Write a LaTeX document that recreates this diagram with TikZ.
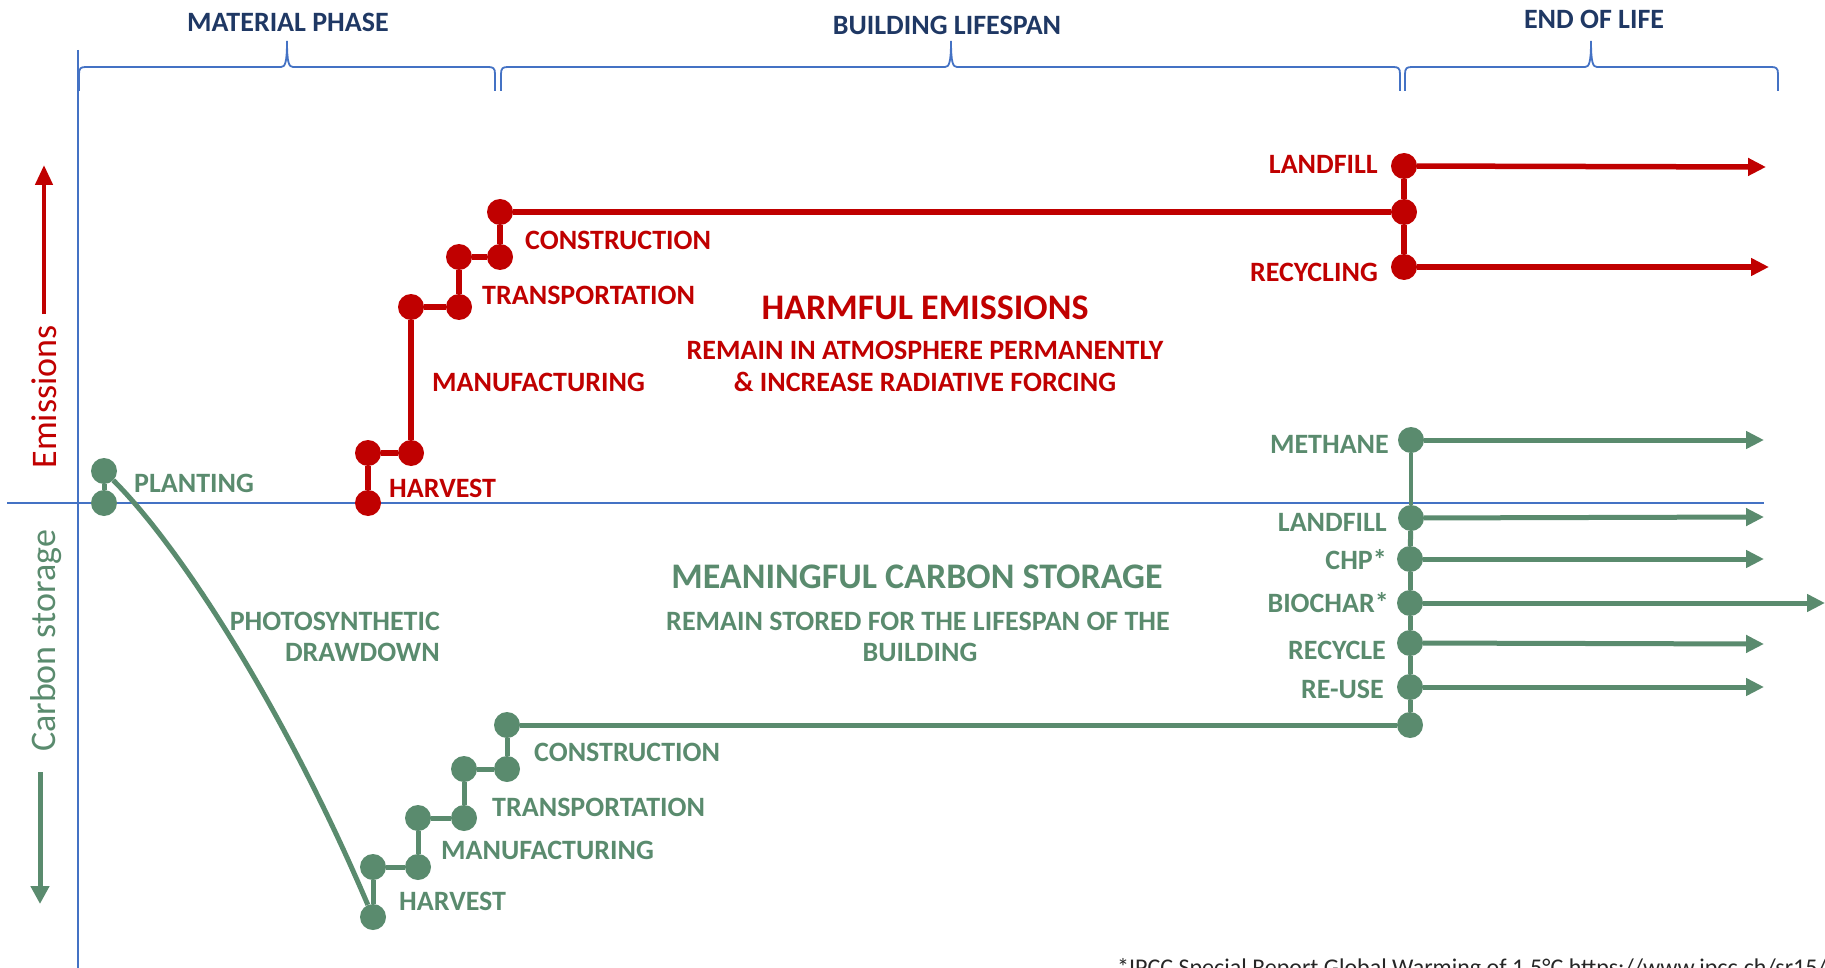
\documentclass[tikz,border=0pt]{standalone}
\usepackage{fontspec}
\setmainfont{Carlito}
\usetikzlibrary{arrows.meta}
\definecolor{emis}{HTML}{C00000}
\definecolor{store}{HTML}{5A8B6E}
\definecolor{axisblue}{HTML}{4472C4}
\definecolor{navy}{HTML}{1F3864}

\begin{document}
\begin{tikzpicture}[x=1pt,y=-1pt,
  lab/.style={inner sep=0pt, font=\fontsize{28}{32}\selectfont\bfseries},
  head/.style={inner sep=0pt, font=\fontsize{36}{40}\selectfont\bfseries},
  axislabel/.style={inner sep=0pt, rotate=90, font=\fontsize{36}{40}\selectfont},
  gdot/.style={circle, fill=store, inner sep=0pt, minimum size=26pt},
  rdot/.style={circle, fill=emis, inner sep=0pt, minimum size=26pt},
  gline/.style={draw=store, line width=5pt},
  rline/.style={draw=emis, line width=5.5pt},
  tip/.style={-{Triangle[length=18pt,width=17pt]}},
  axisline/.style={draw=axisblue, line width=1.6pt},
  brace/.style={draw=axisblue, line width=1.8pt},
]
\useasboundingbox (0,0) rectangle (1825,968);
\clip (0,0) rectangle (1825,968);

% ---- axes ----
\draw[axisline] (78,50) -- (78,968);
\draw[axisline] (7,503) -- (1764,503);

% ---- phase braces ----
\draw[brace] (79,91) -- (79,74) .. controls (79,68) and (81,67) .. (86,67) -- (281,67)
  .. controls (285,67) and (287,63) .. (287,41) .. controls (287,63) and (289,67) .. (293,67)
  -- (488,67) .. controls (493,67) and (495,68) .. (495,74) -- (495,91);
\draw[brace] (501,91) -- (501,74) .. controls (501,68) and (503,67) .. (508,67) -- (945,67)
  .. controls (949,67) and (951,63) .. (951,41) .. controls (951,63) and (953,67) .. (957,67)
  -- (1393,67) .. controls (1398,67) and (1400,68) .. (1400,74) -- (1400,91);
\draw[brace] (1405,91) -- (1405,74) .. controls (1405,68) and (1407,67) .. (1412,67) -- (1585,67)
  .. controls (1589,67) and (1591,63) .. (1591,41) .. controls (1591,63) and (1593,67) .. (1597,67)
  -- (1771,67) .. controls (1776,67) and (1778,68) .. (1778,74) -- (1778,91);

\node[lab, text=navy, anchor=base] (phMat) at (288,32) {MATERIAL PHASE};
\node[lab, text=navy, anchor=base] (phLife) at (947,35) {BUILDING LIFESPAN};
\node[lab, text=navy, anchor=base] (phEnd) at (1594,29) {END OF LIFE};

% ---- vertical axis captions ----
\coordinate (emBot) at (44,314);
\coordinate (emTop) at (44,165);
\draw[draw=emis, line width=4.5pt, -{Triangle[length=20pt,width=17pt]}] (emBot) -- (emTop);
\node[axislabel, text=emis] (emLab) at (44,397) {Emissions};
\coordinate (csTop) at (40,772);
\coordinate (csBot) at (40,904);
\draw[draw=store, line width=5pt, -{Triangle[length=18pt,width=18pt]}] (csTop) -- (csBot);
\node[axislabel, text=store] (csLab) at (46,641) {Carbon storage};

% ---- emissions path ----
\node[rdot] (rh1) at (368,503) {};
\node[rdot] (rh2) at (368,453) {};
\node[rdot] (rm1) at (411,453) {};
\node[rdot] (rm2) at (411,307) {};
\node[rdot] (rt1) at (459,307) {};
\node[rdot] (rt2) at (459,257) {};
\node[rdot] (rc1) at (500,257) {};
\node[rdot] (rc2) at (500,212) {};
\node[rdot] (re0) at (1404,212) {};
\node[rdot] (rlf) at (1404,166) {};
\node[rdot] (rrc) at (1404,267) {};
\coordinate (rlfEnd) at (1766,167);
\coordinate (rrcEnd) at (1769,267);

\draw[rline] (rh1) -- (rh2);
\draw[rline] (rh2) -- (rm1);
\draw[rline] (rm1) -- (rm2);
\draw[rline] (rm2) -- (rt1);
\draw[rline] (rt1) -- (rt2);
\draw[rline] (rt2) -- (rc1);
\draw[rline] (rc1) -- (rc2);
\draw[rline] (rc2) -- (re0);
\draw[rline] (re0) -- (rlf);
\draw[rline] (re0) -- (rrc);
\draw[rline, tip] (rlf) -- (rlfEnd);
\draw[rline, tip] (rrc) -- (rrcEnd);

\node[lab, text=emis, anchor=base west] (rHarv) at (389,497) {HARVEST};
\node[lab, text=emis, anchor=base west] (rManu) at (432,391) {MANUFACTURING};
\node[lab, text=emis, anchor=base west] (rTrans) at (482,304) {TRANSPORTATION};
\node[lab, text=emis, anchor=base west] (rCons) at (525,250) {CONSTRUCTION};
\node[lab, text=emis, anchor=base east] (rLand) at (1378,174) {LANDFILL};
\node[lab, text=emis, anchor=base east] (rRecy) at (1378,281) {RECYCLING};

\node[head, text=emis, anchor=base] (rHead) at (925,319) {HARMFUL EMISSIONS};
\node[lab, text=emis, anchor=base] (rSub1) at (925,359) {REMAIN IN ATMOSPHERE PERMANENTLY};
\node[lab, text=emis, anchor=base] (rSub2) at (925,391) {\& INCREASE RADIATIVE FORCING};

% ---- carbon storage path ----
\node[gdot] (gp1) at (104,503) {};
\node[gdot] (gp2) at (104,471) {};
\node[gdot] (gh1) at (373,917) {};
\node[gdot] (gh2) at (373,867) {};
\node[gdot] (gm1) at (418,867) {};
\node[gdot] (gm2) at (418,818) {};
\node[gdot] (gt1) at (464,818) {};
\node[gdot] (gt2) at (464,769) {};
\node[gdot] (gc1) at (507,769) {};
\node[gdot] (gc2) at (507,725) {};
\node[gdot] (ge0) at (1410,725) {};
\node[gdot] (ere) at (1410,687) {};
\node[gdot] (erc) at (1410,643) {};
\node[gdot] (ebc) at (1410,603) {};
\node[gdot] (ech) at (1410,559) {};
\node[gdot] (elf) at (1411,518) {};
\node[gdot] (emt) at (1411,440) {};
\coordinate (emtEnd) at (1764,440);
\coordinate (elfEnd) at (1764,517);
\coordinate (echEnd) at (1764,559);
\coordinate (ebcEnd) at (1825,603);
\coordinate (ercEnd) at (1764,644);
\coordinate (ereEnd) at (1764,687);

\draw[gline] (gp1) -- (gp2);
\draw[gline] (gp2) .. controls (184,551) and (288,717) .. (gh1);
\draw[gline] (gh1) -- (gh2);
\draw[gline] (gh2) -- (gm1);
\draw[gline] (gm1) -- (gm2);
\draw[gline] (gm2) -- (gt1);
\draw[gline] (gt1) -- (gt2);
\draw[gline] (gt2) -- (gc1);
\draw[gline] (gc1) -- (gc2);
\draw[gline] (gc2) -- (ge0);
\draw[gline] (ge0) -- (ere);
\draw[gline] (ere) -- (erc);
\draw[gline] (erc) -- (ebc);
\draw[gline] (ebc) -- (ech);
\draw[gline] (ech) -- (elf);
\draw[gline, line width=4.5pt] (elf) -- (emt);
\draw[gline, tip] (emt) -- (emtEnd);
\draw[gline, tip] (elf) -- (elfEnd);
\draw[gline, tip] (ech) -- (echEnd);
\draw[gline, tip] (ebc) -- (ebcEnd);
\draw[gline, tip] (erc) -- (ercEnd);
\draw[gline, tip] (ere) -- (ereEnd);

\node[lab, text=store, anchor=base west] (gPlant) at (134,492) {PLANTING};
\node[lab, text=store, anchor=base west] (gHarv) at (399,910) {HARVEST};
\node[lab, text=store, anchor=base west] (gManu) at (441,859) {MANUFACTURING};
\node[lab, text=store, anchor=base west] (gTrans) at (492,816) {TRANSPORTATION};
\node[lab, text=store, anchor=base west] (gCons) at (534,761) {CONSTRUCTION};
\node[lab, text=store, anchor=base east] (gPhoto1) at (440,630) {PHOTOSYNTHETIC};
\node[lab, text=store, anchor=base east] (gPhoto2) at (440,661) {DRAWDOWN};

\node[lab, text=store, anchor=base east] (gMeth) at (1389,453) {METHANE};
\node[lab, text=store, anchor=base east] (gLand) at (1387,531) {LANDFILL};
\node[lab, text=store, anchor=base east] (gChp) at (1387,569) {CHP*};
\node[lab, text=store, anchor=base east] (gBio) at (1389,612) {BIOCHAR*};
\node[lab, text=store, anchor=base east] (gRecy) at (1386,659) {RECYCLE};
\node[lab, text=store, anchor=base east] (gReuse) at (1384,698) {RE-USE};

\node[head, text=store, anchor=base] (gHead) at (917,588) {MEANINGFUL CARBON STORAGE};
\node[lab, text=store, anchor=base] (gSub1) at (918,630) {REMAIN STORED FOR THE LIFESPAN OF THE};
\node[lab, text=store, anchor=base] (gSub2) at (920,661) {BUILDING};

% ---- source note ----
\node[inner sep=0pt, anchor=base west, font=\fontsize{24}{28}\selectfont, text=black!85] (note)
  at (1117,975) {*IPCC Special Report Global Warming of 1.5°C https://www.ipcc.ch/sr15/};
\end{tikzpicture}
\end{document}
